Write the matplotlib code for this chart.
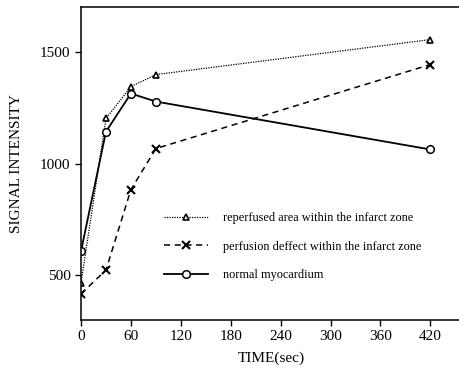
import matplotlib
matplotlib.use("Agg")
import matplotlib.pyplot as plt

plt.rcParams['font.family'] = ['Liberation Serif', 'DejaVu Serif']

time_sec = [0, 30, 60, 90, 420]
reperfused = [464, 1202, 1345, 1399, 1556]
perf_defect = [415, 522, 883, 1067, 1444]
normal = [607, 1143, 1314, 1278, 1063]

labels = ["reperfused area within the infarct zone",
          "perfusion deffect within the infarct zone",
          "normal myocardium"]
xticks = [0, 60, 120, 180, 240, 300, 360, 420]
yticks = [500, 1000, 1500]

fig = plt.figure(figsize=(4.59, 3.78), dpi=100)
ax = fig.add_axes([0.1765, 0.1534, 0.83, 0.828])

ax.plot(time_sec, reperfused, color='black', linestyle=(0, (1, 1)), lw=0.9,
        marker='^', markersize=5, markerfacecolor='white', markeredgewidth=1.2,
        label=labels[0])
ax.plot(time_sec, perf_defect, color='black', linestyle=(0, (4, 3)), lw=1.1,
        marker='x', markersize=5.5, markeredgewidth=1.5, label=labels[1])
ax.plot(time_sec, normal, color='black', linestyle='-', lw=1.3,
        marker='o', markersize=5.5, markerfacecolor='white', markeredgewidth=1.1,
        label=labels[2])

ax.set_xlim(0, 458)
ax.set_ylim(298, 1702)
ax.set_xticks(xticks)
ax.set_yticks(yticks)
ax.tick_params(labelsize=11, direction='out', length=4, width=1)
ax.spines['right'].set_visible(False)
for s in ['left', 'bottom', 'top']:
    ax.spines[s].set_linewidth(1.1)

ax.set_xlabel("TIME(sec)", fontsize=11, labelpad=6)
ax.set_ylabel("SIGNAL INTENSITY", fontsize=11, labelpad=12)

ax.legend(loc='upper left', bbox_to_anchor=(0.19, 0.38), frameon=False,
          fontsize=8.8, handlelength=3.6, labelspacing=1.35, handletextpad=1.2)

fig.savefig("out.png", dpi=100)
